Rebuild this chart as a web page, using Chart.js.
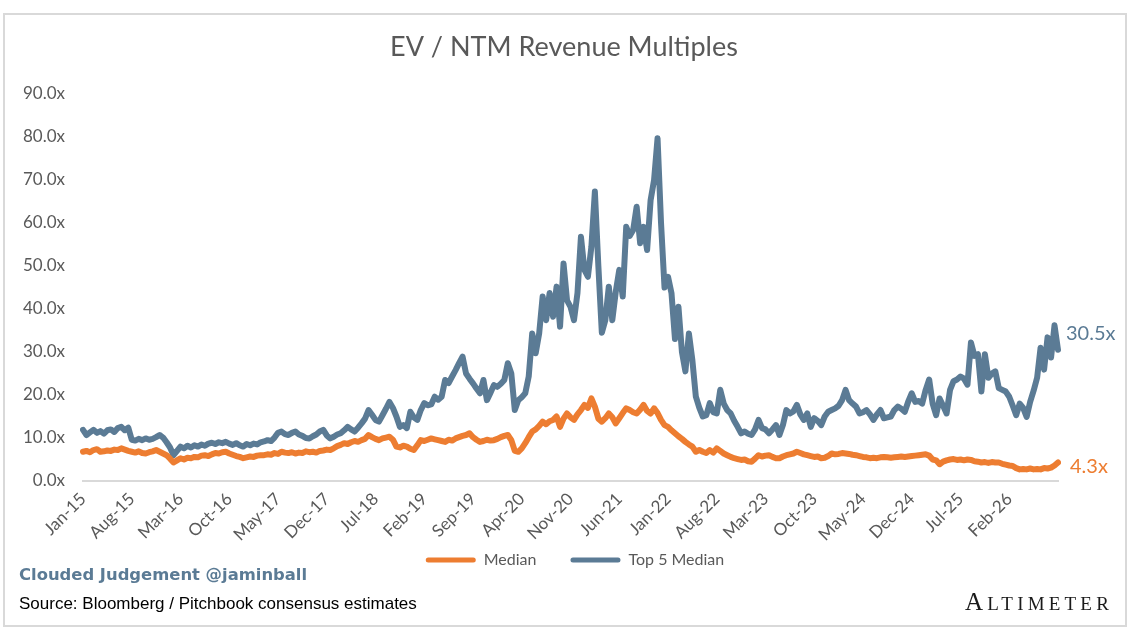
<!DOCTYPE html>
<html>
<head>
<meta charset="utf-8">
<script src="https://cdn.jsdelivr.net/npm/chart.js@4.4.1/dist/chart.umd.min.js"></script>
<style>
html,body{margin:0;padding:0;background:#fff;}
#wrap{position:relative;width:1130px;height:632px;overflow:hidden;background:#fff;}
#frame{position:absolute;left:3px;top:13px;width:1124px;height:614px;border:2px solid #D9D9D9;box-sizing:border-box;}
#c{position:absolute;left:0;top:0;}
.brand{position:absolute;left:19px;top:565px;line-height:20px;font-family:"DejaVu Sans",sans-serif;font-weight:bold;font-size:16.4px;color:#5B7B95;white-space:nowrap;}
.src{position:absolute;left:19px;top:594px;line-height:20px;font-family:"Liberation Sans",Arial,sans-serif;font-size:17px;color:#000;white-space:nowrap;}
.logo{position:absolute;left:965px;top:589px;line-height:26px;font-family:"Liberation Serif","DejaVu Serif",serif;color:#1a1a1a;letter-spacing:4.2px;white-space:nowrap;}
.logo .big{font-size:25px;}
.logo .sm{font-size:19px;}
</style>
</head>
<body>
<div id="wrap">
  <div id="frame"></div>
  <canvas id="c" width="1130" height="632"></canvas>
  <div class="brand">Clouded Judgement @jaminball</div>
  <div class="src">Source: Bloomberg / Pitchbook consensus estimates</div>
  <div class="logo"><span class="big">A</span><span class="sm">LTIMETER</span></div>
</div>
<script>
// x-axis tick labels (every 7 months, one tick per 14 half-month periods)
const tickLabels = ['Jan-15','Aug-15','Mar-16','Oct-16','May-17','Dec-17','Jul-18','Feb-19','Sep-19','Apr-20',
  'Nov-20','Jun-21','Jan-22','Aug-22','Mar-23','Oct-23','May-24','Dec-24','Jul-25','Feb-26'];

// Top 5 Median EV / NTM revenue multiple, half-month samples from Jan-15
const top5Values = [
  11.9,10.7,11.3,11.9,11.2,11.6,11.0,11.8,12.0,11.4,
  12.3,12.6,11.8,12.4,9.6,9.4,9.8,9.5,9.9,9.6,
  9.8,10.2,10.7,10.1,9.0,7.8,6.0,7.0,8.0,7.6,
  8.2,7.8,8.3,8.0,8.5,8.2,8.7,8.9,8.6,9.0,
  8.8,9.1,8.7,8.4,8.8,8.3,8.0,8.6,8.3,8.7,
  8.5,9.0,9.2,9.5,9.3,10.1,11.2,11.5,10.9,10.7,
  11.2,11.5,10.8,10.5,10.0,9.9,10.4,10.8,11.5,11.9,
  10.6,9.9,10.3,10.8,11.1,11.8,12.6,12.0,11.5,12.4,
  13.4,14.5,16.5,15.4,14.2,13.8,15.3,16.8,18.4,17.0,
  15.0,12.6,13.0,12.3,16.1,14.8,14.2,16.5,18.1,17.6,
  17.8,19.6,18.9,19.6,23.5,22.8,24.3,25.8,27.4,28.9,
  25.0,23.8,22.7,21.5,20.4,23.5,18.8,20.5,22.3,21.9,
  22.6,23.5,27.4,25.0,16.5,18.8,19.5,20.4,24.3,34.3,
  29.7,34.3,42.9,37.4,43.7,38.2,45.2,35.9,50.6,42.0,
  40.5,37.4,43.7,56.8,49.1,47.5,54.5,67.3,50.0,34.5,
  37.4,45.2,37.4,44.0,49.1,42.9,59.1,57.0,58.4,63.8,
  55.3,59.1,53.7,65.3,70.0,79.7,60.0,45.0,47.5,43.7,
  33.0,40.5,30.0,25.5,34.3,28.1,19.6,17.0,15.0,15.3,
  18.1,16.0,15.7,21.2,18.0,16.5,15.7,14.0,12.6,11.1,
  11.5,11.0,10.7,12.0,14.2,12.3,12.0,11.1,12.0,13.0,
  10.7,13.0,16.5,15.7,16.2,17.7,15.5,14.2,15.7,12.6,
  14.6,14.0,13.0,15.0,16.1,16.5,16.9,17.5,18.8,21.2,
  18.8,18.0,17.3,15.7,16.0,16.5,15.5,14.2,15.5,16.5,
  14.6,14.8,15.0,16.5,17.3,16.8,16.1,18.5,20.4,18.4,
  18.6,18.0,21.2,23.6,18.0,15.3,19.2,17.5,15.7,21.2,
  23.2,23.6,24.3,23.8,22.4,32.2,29.1,29.5,20.8,29.5,
  24.0,25.0,25.5,21.6,21.2,20.8,19.6,17.5,15.3,18.0,
  17.0,14.9,18.4,21.0,24.0,31.0,25.9,33.4,28.7,36.2,30.5
];

// Median EV / NTM revenue multiple, half-month samples from Jan-15
const medianValues = [
  6.8,7.0,6.7,7.2,7.4,6.8,6.9,7.1,7.0,7.3,
  7.2,7.6,7.3,7.0,6.8,6.6,6.9,6.5,6.4,6.7,
  6.9,7.2,6.8,6.4,6.0,5.2,4.3,4.8,5.3,5.0,
  5.4,5.3,5.6,5.5,5.9,6.0,5.8,6.2,6.5,6.4,
  6.7,6.8,6.4,6.1,5.8,5.6,5.3,5.5,5.7,5.6,
  5.9,6.0,6.0,6.2,6.1,6.5,6.3,6.8,6.6,6.5,
  6.7,6.4,6.6,6.5,6.9,6.7,6.8,6.6,7.0,7.1,
  7.3,7.2,7.6,8.1,8.4,8.8,8.6,9.0,9.3,9.1,
  9.5,9.8,10.7,10.2,9.8,9.5,9.9,10.1,10.3,9.6,
  8.0,7.8,8.2,8.0,7.5,7.2,8.3,9.5,9.3,9.6,
  9.9,9.7,9.5,9.3,9.1,9.6,9.4,9.9,10.2,10.5,
  10.7,11.1,10.2,9.6,9.1,9.3,9.6,9.4,9.5,9.8,
  10.2,10.5,10.7,9.5,7.0,6.8,7.6,8.8,10.2,11.5,
  12.0,12.8,13.8,13.2,13.9,14.2,15.0,12.6,14.5,15.7,
  14.8,14.2,15.5,16.5,17.7,17.0,19.2,17.3,14.5,13.8,
  14.6,15.7,14.8,13.4,14.6,15.8,16.9,16.5,16.0,15.7,
  16.6,17.7,16.3,15.7,16.9,15.8,14.2,13.0,12.6,11.8,
  11.1,10.4,9.8,9.1,8.5,8.0,6.8,7.2,6.8,6.5,
  7.2,6.6,7.6,7.0,6.4,6.0,5.6,5.3,5.1,4.9,
  5.0,4.6,4.5,5.2,6.0,5.7,5.9,6.0,5.6,5.3,
  5.3,5.7,6.0,6.2,6.4,6.8,6.5,6.2,6.0,5.8,
  5.6,5.7,5.3,5.4,5.8,6.4,6.2,6.3,6.5,6.4,
  6.3,6.1,6.0,5.8,5.6,5.5,5.3,5.4,5.3,5.5,
  5.6,5.5,5.4,5.5,5.6,5.7,5.6,5.7,5.8,5.9,
  6.0,6.1,6.2,5.9,5.0,4.8,3.9,4.5,4.8,5.0,
  5.1,4.9,5.0,4.8,5.0,4.9,4.6,4.5,4.3,4.4,
  4.2,4.4,4.3,4.3,4.0,3.8,3.6,3.5,3.0,2.7,
  2.8,2.7,2.9,2.7,2.8,2.7,3.0,2.9,3.1,3.6,4.3
];

// categories: half-month periods starting Jan 2015
const monthNames = ['Jan','Feb','Mar','Apr','May','Jun','Jul','Aug','Sep','Oct','Nov','Dec'];
const categories = [];
for (let i = 0; i < top5Values.length; i++) {
  const m = Math.floor(i / 2);
  const yr = 15 + Math.floor(m / 12);
  categories.push(monthNames[m % 12] + '-' + yr + (i % 2 ? ' (2)' : ''));
}

const ORANGE = '#ED7D31';
const BLUE = '#5B7B95';
const AXIS_TEXT = '#595959';
const TICK_EVERY = 14;

const endLabels = {
  id: 'endLabels',
  afterDatasetsDraw(chart, args, opts) {
    const c = chart.ctx;
    chart.data.datasets.forEach((d, i) => {
      const meta = chart.getDatasetMeta(i);
      const p = meta.data[meta.data.length - 1];
      const v = d.data[d.data.length - 1];
      c.save();
      c.font = '20px Lato';
      c.fillStyle = d.borderColor;
      c.textBaseline = 'middle';
      c.textAlign = 'left';
      c.fillText(v.toFixed(1) + 'x', p.x + opts.dx[i], p.y + opts.dy[i]);
      c.restore();
    });
  }
};

// place legend and title boxes at the reference positions
const boxPlacer = {
  id: 'boxPlacer',
  afterLayout(chart, args, opts) {
    const lg = chart.legend;
    if (lg) {
      const h = lg.height;
      lg.left = opts.legendCenterX - 400;
      lg.right = opts.legendCenterX + 400;
      lg.width = 800;
      lg.top = opts.legendTop;
      lg.bottom = opts.legendTop + h;
    }
    const tb = chart.titleBlock;
    if (tb) {
      tb.left = opts.titleCenterX - 500;
      tb.right = opts.titleCenterX + 500;
      tb.width = 1000;
    }
  }
};

new Chart(document.getElementById('c'), {
  type: 'line',
  data: {
    labels: categories,
    datasets: [
      { label: 'Median', data: medianValues, borderColor: ORANGE, backgroundColor: ORANGE,
        borderWidth: 6, pointRadius: 0, tension: 0, borderJoinStyle: 'round', borderCapStyle: 'round' },
      { label: 'Top 5 Median', data: top5Values, borderColor: BLUE, backgroundColor: BLUE,
        borderWidth: 6, pointRadius: 0, tension: 0, borderJoinStyle: 'round', borderCapStyle: 'round' }
    ]
  },
  plugins: [endLabels, boxPlacer],
  options: {
    responsive: false,
    animation: false,
    devicePixelRatio: 1,
    layout: { padding: { left: 0, right: 72, top: 0, bottom: 21 } },
    plugins: {
      title: {
        display: true,
        text: 'EV / NTM Revenue Multiples',
        color: AXIS_TEXT,
        font: { family: 'Lato', size: 27, weight: 'normal' },
        padding: { top: 31, bottom: 30.6 }
      },
      legend: {
        position: 'bottom',
        labels: {
          boxWidth: 50, boxHeight: 5, padding: 34,
          color: AXIS_TEXT,
          font: { family: 'Lato', size: 16 },
          useBorderRadius: true, borderRadius: 2.5,
          generateLabels: (chart) => chart.data.datasets.map((d, i) => ({
            text: d.label, fillStyle: d.borderColor, strokeStyle: d.borderColor,
            lineWidth: 0, hidden: false, datasetIndex: i, fontColor: AXIS_TEXT, borderRadius: 2.5
          }))
        }
      },
      tooltip: { enabled: false },
      endLabels: { dx: [12, 8], dy: [4, -16] },
      boxPlacer: { legendCenterX: 575, legendTop: 518, titleCenterX: 564 }
    },
    scales: {
      x: {
        type: 'category',
        grid: { display: false, drawTicks: false },
        border: { display: true, color: '#D9D9D9', width: 2 },
        ticks: {
          autoSkip: false, minRotation: 45, maxRotation: 45, padding: 8,
          color: AXIS_TEXT, font: { family: 'Lato', size: 17 },
          callback: (v, i) => (i % TICK_EVERY === 0 && i / TICK_EVERY < tickLabels.length) ? tickLabels[i / TICK_EVERY] : null
        },
        afterFit: (s) => { s.height = 70; }
      },
      y: {
        min: 0, max: 90,
        grid: { display: false, drawTicks: false },
        border: { display: false },
        ticks: {
          stepSize: 10, padding: 18,
          color: AXIS_TEXT, font: { family: 'Lato', size: 17 },
          callback: (v) => v.toFixed(1) + 'x'
        },
        afterFit: (s) => { s.width = 83; }
      }
    }
  }
});
</script>
</body>
</html>
